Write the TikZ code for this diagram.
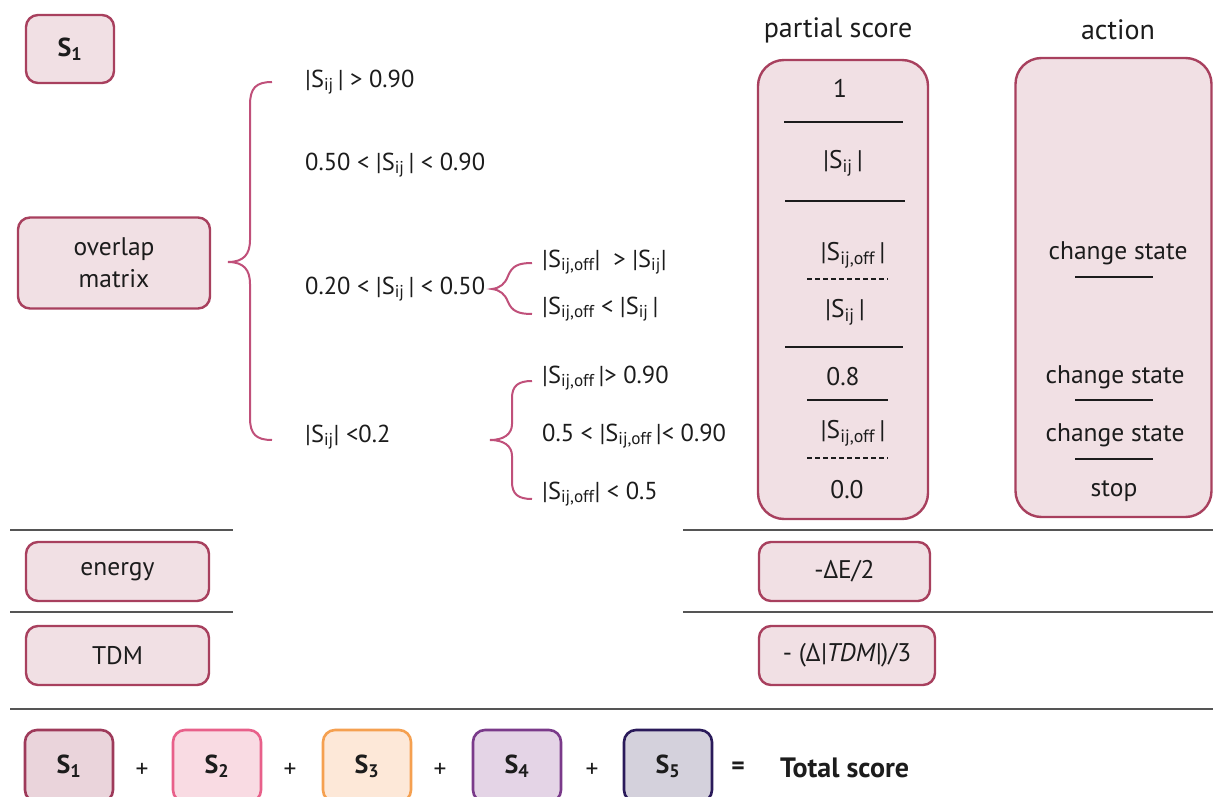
\documentclass[tikz,border=0pt]{standalone}
\usepackage{fontspec}
\setmainfont{PT Sans}
\usetikzlibrary{positioning}
\definecolor{rasp}{HTML}{A8405E}
\definecolor{raspfill}{HTML}{F1E0E4}
\definecolor{bracec}{HTML}{C0507A}
\definecolor{sepc}{HTML}{555555}
\definecolor{ink}{HTML}{1C1C1C}
\definecolor{bAa}{HTML}{9E3A5A}\definecolor{fAa}{HTML}{EAD4DB}
\definecolor{bBb}{HTML}{E8608A}\definecolor{fBb}{HTML}{F9DBE3}
\definecolor{bCc}{HTML}{F5A050}\definecolor{fCc}{HTML}{FDE8D8}
\definecolor{bDd}{HTML}{7A3A8A}\definecolor{fDd}{HTML}{E4D4E6}
\definecolor{bEe}{HTML}{2A1A5A}\definecolor{fEe}{HTML}{D4D1DC}
\newcommand{\Sij}{S\textsubscript{ij}}
\newcommand{\Sof}{S\textsubscript{ij,off}}
\begin{document}
\begin{tikzpicture}[x=1pt,y=-1pt,
  every node/.style={font=\fontsize{25.5}{32}\selectfont, text=ink, inner sep=0pt},
  box/.style={draw=rasp, fill=raspfill, line width=2.4pt, rounded corners=12pt, align=center},
  bigbox/.style={draw=rasp, fill=raspfill, line width=2.4pt, rounded corners=26pt},
  brc/.style={draw=bracec, line width=2pt},
  sep/.style={draw=sepc, line width=1.8pt},
  inl/.style={draw=ink, line width=1.4pt},
  dsh/.style={draw=ink, line width=1.2pt, dash pattern=on 5pt off 3pt},
  cond/.style={anchor=west, font=\fontsize{24.5}{30}\selectfont},
  hdr/.style={font=\fontsize{28}{32}\selectfont},
  sbox/.style={line width=2.6pt, rounded corners=12pt, minimum width=88pt, minimum height=72pt, font=\fontsize{26}{30}\selectfont\bfseries}
]
\clip (0,0) rectangle (1213,797);
\fill[white] (0,0) rectangle (1213,797);

% left column
\node[box, minimum width=88pt, minimum height=68pt, font=\fontsize{26}{30}\selectfont\bfseries] (s1top) at (70,49) {S\textsubscript{1}};
\node[box, minimum width=192pt, minimum height=91pt] (ovl) at (114,263) {overlap\\matrix};
\node[box, minimum width=183pt, minimum height=59pt] (en) at (117.5,571.5) {energy};
\node[box, minimum width=183pt, minimum height=59pt] (tdm) at (117.5,655.5) {TDM};

% big brace
\coordinate (bt) at (272,82);
\coordinate (bb) at (272,440);
\coordinate (btip) at (228,262);
\draw[brc] (bt) .. controls (256,82) and (250,88) .. (250,105) -- (250,240)
  .. controls (250,254) and (244,262) .. (btip)
  .. controls (244,262) and (250,270) .. (250,284) -- (250,418)
  .. controls (250,434) and (256,440) .. (bb);

% conditions
\node[cond] (c1) at (305,82) {|\Sij\,| > 0.90};
\node[cond] (c2) at (305,165) {0.50 < |\Sij\,| < 0.90};
\node[cond] (c3) at (305,289) {0.20 < |\Sij\,| < 0.50};
\node[cond] (c4) at (305,437) {|\Sij| <0.2};

% small brace 1
\draw[brc] (532,263) .. controls (518,263) and (512,266) .. (508,276)
  .. controls (505,284) and (500,288) .. (492,289)
  .. controls (500,290) and (505,294) .. (508,302)
  .. controls (512,311) and (518,314) .. (532,314);
\node[cond] (c31) at (542,262) {|\Sof|\ \ > |\Sij|};
\node[cond] (c32) at (542,309) {|\Sof\ < |\Sij\,|};

% small brace 2
\draw[brc] (532,381) .. controls (518,381) and (512,386) .. (512,398) -- (512,424)
  .. controls (512,434) and (504,440) .. (490,440)
  .. controls (504,440) and (512,446) .. (512,456) -- (512,482)
  .. controls (512,494) and (518,499) .. (532,499);
\node[cond] (c41) at (542,378) {|\Sof\,|> 0.90};
\node[cond] (c42) at (542,436) {0.5 < |\Sof\,|< 0.90};
\node[cond] (c43) at (542,494) {|\Sof| < 0.5};

% headers
\node[hdr] (hps) at (838,30) {partial score};
\node[hdr] (hac) at (1118,30) {action};

% partial score box
\node[bigbox, minimum width=170pt, minimum height=459pt] (ps) at (843,289.5) {};
\node (p1) at (840,88) {1};
\draw[inl] (784,122) -- (903,122);
\node (p2) at (843,163) {|\Sij\,|};
\draw[inl] (785,201) -- (905,201);
\node (p3) at (853,255) {|\Sof\,|};
\draw[dsh] (807,279) -- (888,279);
\node (p4) at (845,312) {|\Sij\,|};
\draw[inl] (785,347) -- (903,347);
\node (p5) at (843,377) {0.8};
\draw[inl] (807,400) -- (888,400);
\node (p6) at (853,433) {|\Sof\,|};
\draw[dsh] (807,458) -- (888,458);
\node (p7) at (847,490) {0.0};

% action box
\node[bigbox, minimum width=196pt, minimum height=459pt] (ac) at (1113.5,287.5) {};
\node (a1) at (1118,253) {change state};
\draw[inl] (1075,277) -- (1153,277);
\node (a2) at (1115,377) {change state};
\draw[inl] (1075,400) -- (1153,400);
\node (a3) at (1115,435) {change state};
\draw[inl] (1075,459) -- (1153,459);
\node (a4) at (1114,491) {stop};

% separators
\draw[sep] (10,530) -- (233,530);
\draw[sep] (683,530) -- (1213,530);
\draw[sep] (10,612) -- (233,612);
\draw[sep] (683,612) -- (1213,612);
\draw[sep, line width=2.6pt] (10,709) -- (1213,709);

% energy / TDM scores
\node[box, minimum width=171pt, minimum height=59pt] (pen) at (844.5,571.5) {-ΔE/2};
\node[box, minimum width=176pt, minimum height=59pt] (ptd) at (847,655.5) {- (Δ\textit{|TDM|})/3};

% total score row
\node[sbox, draw=bAa, fill=fAa] (t1) at (69,766) {S\textsubscript{1}};
\node (pl1) at (142,770) {+};
\node[sbox, draw=bBb, fill=fBb] (t2) at (217,766) {S\textsubscript{2}};
\node (pl2) at (290,770) {+};
\node[sbox, draw=bCc, fill=fCc] (t3) at (367,766) {S\textsubscript{3}};
\node (pl3) at (440,770) {+};
\node[sbox, draw=bDd, fill=fDd] (t4) at (517,766) {S\textsubscript{4}};
\node (pl4) at (592,770) {+};
\node[sbox, draw=bEe, fill=fEe] (t5) at (668,766) {S\textsubscript{5}};
\node (eq) at (738,768) {\textbf{=}};
\node[anchor=west, font=\fontsize{28}{32}\selectfont\bfseries] (tot) at (780,768) {Total score};
\end{tikzpicture}
\end{document}
